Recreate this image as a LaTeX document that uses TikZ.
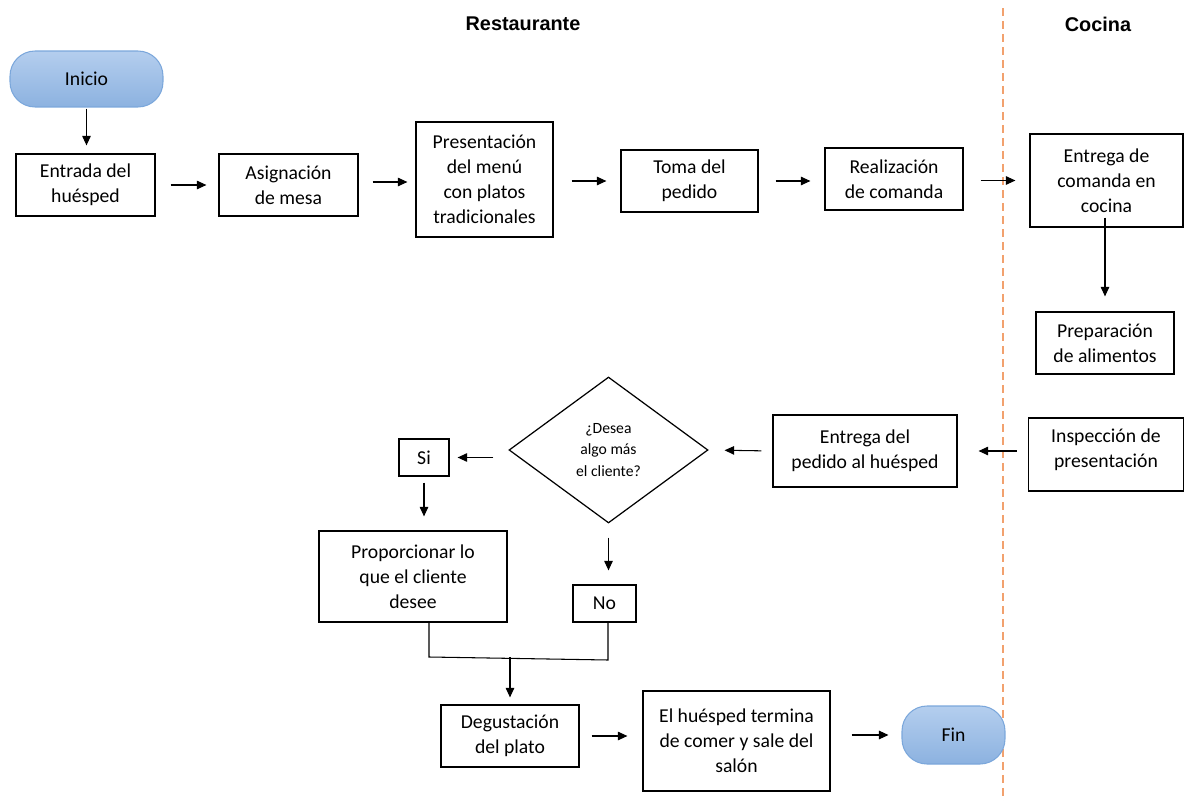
\documentclass[tikz,border=0pt]{standalone}
\usepackage{fontspec}
\setmainfont{Carlito}
\newfontfamily\titlefont{Liberation Sans}
\usetikzlibrary{shapes.geometric,arrows.meta}
\definecolor{termfillA}{HTML}{B4CEEE}
\definecolor{termfillB}{HTML}{8CB2E0}
\definecolor{termdraw}{HTML}{7BA7DB}
\definecolor{lanecol}{HTML}{F2A16E}
\tikzset{
  box/.style={draw=black, line width=0.7pt, align=center, font=\fontsize{11.2}{14.2}\selectfont, inner sep=1pt},
  term/.style={draw=termdraw, line width=0.6pt, rounded corners=0.5cm, top color=termfillA, bottom color=termfillB, align=center, font=\fontsize{11.2}{14.2}\selectfont},
  dec/.style={diamond, draw=black, line width=0.7pt, inner sep=0pt, aspect=1.36, align=center, font=\fontsize{8.9}{12}\selectfont},
  arr/.style={-{Triangle[length=0.19cm,width=0.17cm]}, line width=0.6pt},
  ln/.style={line width=0.6pt},
  ttl/.style={font=\titlefont\bfseries\fontsize{11.3}{13}\selectfont}
}
\begin{document}
\begin{tikzpicture}[x=0.02cm,y=-0.02cm]
\useasboundingbox (0,0) rectangle (1184,801);
% lane divider
\draw[lanecol, line width=0.85pt, dash pattern=on 0.16cm off 0.1cm] (1003,8) -- (1003,801);
\node[ttl] (t1) at (523,24) {Restaurante};
\node[ttl] (t2) at (1098,24) {Cocina};
% nodes
\node[term, minimum width=3.06cm, minimum height=1.12cm] (ini) at (86.5,79) {Inicio};
\node[box, minimum width=2.78cm, minimum height=1.24cm] (ent) at (85.5,185) {Entrada del\\hu\'esped};
\node[box, minimum width=2.78cm, minimum height=1.24cm] (asi) at (288.5,185) {Asignaci\'on\\de mesa};
\node[box, minimum width=2.74cm, minimum height=2.30cm] (pre) at (484.5,179.5) {Presentaci\'on\\del men\'u\\con platos\\tradicionales};
\node[box, minimum width=2.74cm, minimum height=1.24cm] (tom) at (689.5,181) {Toma del\\pedido};
\node[box, minimum width=2.76cm, minimum height=1.24cm] (rea) at (894,179) {Realizaci\'on\\de comanda};
\node[box, minimum width=3.06cm, minimum height=1.86cm] (ec) at (1106.5,180.5) {Entrega de\\comanda en\\cocina};
\node[box, minimum width=2.76cm, minimum height=1.24cm] (pa) at (1105,343) {Preparaci\'on\\de alimentos};
\node[box, minimum width=3.10cm, minimum height=1.46cm] (ins) at (1106,454.5) {};
\node[align=center, font=\fontsize{11.2}{14.2}\selectfont, inner sep=0pt] (inst) at (1106,450) {Inspecci\'on de\\presentaci\'on};
\node[box, minimum width=3.68cm, minimum height=1.44cm] (ep) at (865,451) {Entrega del\\pedido al hu\'esped};
\node[dec, minimum width=3.98cm, minimum height=2.92cm] (d) at (608.5,450) {¿Desea\\algo m\'as\\el cliente?};
\node[box, minimum width=1.0cm, minimum height=0.74cm] (si) at (424,457.5) {Si};
\node[box, minimum width=3.76cm, minimum height=1.82cm] (pro) at (413,576.5) {Proporcionar lo\\que el cliente\\desee};
\node[box, minimum width=1.26cm, minimum height=0.74cm] (no) at (604.5,603.5) {No};
\node[box, minimum width=2.76cm, minimum height=1.24cm] (deg) at (510,736) {Degustaci\'on\\del plato};
\node[box, minimum width=3.74cm, minimum height=2.0cm] (ter) at (736.5,741) {El hu\'esped termina\\de comer y sale del\\sal\'on};
\node[term, minimum width=2.06cm, minimum height=1.16cm] (fin) at (953.5,735) {Fin};
% connectors
\draw[arr, shorten <=0.02cm, shorten >=0.16cm] (ini.south) -- (ini.south |- ent.north);
\draw[arr, shorten <=0.30cm, shorten >=0.24cm] (ent.east) -- (ent.east -| asi.west);
\draw[arr, shorten <=0.28cm, shorten >=0.16cm] (asi.east |- 0,182) -- (pre.west |- 0,182);
\draw[arr, shorten <=0.36cm, shorten >=0.28cm] (tom.west -| pre.east) -- (tom.west);
\draw[arr, shorten <=0.34cm, shorten >=0.28cm] (tom.east) -- (tom.east -| rea.west);
\draw[arr, shorten <=0.34cm, shorten >=0.28cm] (rea.east |- ec.west) -- (ec.west);
\draw[arr, shorten <=-0.2cm, shorten >=0.30cm] (pa.north |- ec.south) -- (pa.north);
\draw[arr, shorten <=0.22cm, shorten >=0.42cm] (ep.east -| ins.west) -- (ep.east);
\draw[arr, shorten <=0.22cm, shorten >=0.32cm] (ep.west) -- (d.east);
\draw[arr, shorten <=0.30cm, shorten >=0.16cm] (d.west |- si.east) -- (si.east);
\draw[arr, shorten <=0.12cm, shorten >=0.28cm] (si.south) -- (si.south |- pro.north);
\draw[arr, shorten <=0.28cm, shorten >=0.28cm] (d.south) -- (d.south |- no.north);
\coordinate (j1) at (429,657);
\coordinate (j2) at (608,660);
\coordinate (jm) at (510,657);
\draw[ln] (pro.south -| j1) -- (j1) -- (j2) -- (j2 |- no.south);
\draw[arr, shorten >=0.14cm] (jm) -- (jm |- deg.north);
\draw[arr, shorten <=0.24cm, shorten >=0.30cm] (deg.east) -- (deg.east -| ter.west);
\draw[arr, shorten <=0.42cm, shorten >=0.26cm] (fin.west -| ter.east) -- (fin.west);
\end{tikzpicture}
\end{document}
